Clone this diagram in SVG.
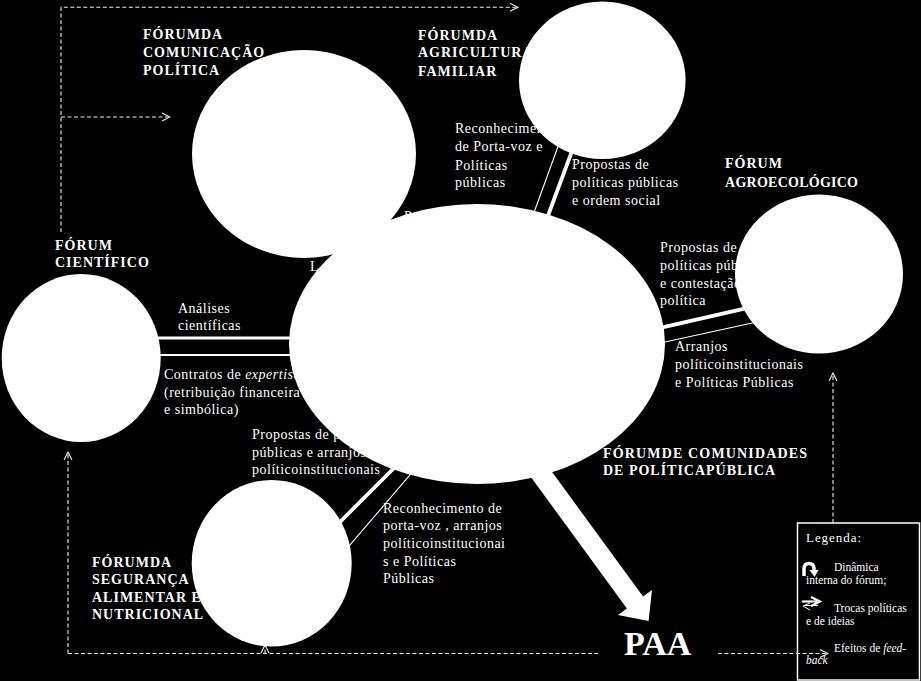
<svg xmlns="http://www.w3.org/2000/svg" width="921" height="681" viewBox="0 0 921 681" font-family="'Liberation Serif', 'DejaVu Serif', serif">
<style>
text{fill:#fff;font-family:'Liberation Serif','DejaVu Serif',serif}
.t{font-size:14px;font-weight:bold;letter-spacing:1px}
.l{font-size:14px;letter-spacing:0.5px}
.lg{font-size:11.5px}
.node{fill:#fff}
.thick{stroke:#fff;stroke-width:3.8;fill:none}
.thin{stroke:#fff;stroke-width:1.1;fill:none}
.dash{stroke:#eee;stroke-width:1.1;fill:none;stroke-dasharray:4 2.5}
</style>
<defs>
<marker id="oa" markerWidth="10" markerHeight="10" refX="9" refY="5" orient="auto" markerUnits="userSpaceOnUse">
<path d="M1,1 L9,5 L1,9" fill="none" stroke="#eee" stroke-width="1.1"/>
</marker>
</defs>
<rect width="921" height="681" fill="#000"/>

<g id="legend">
<rect x="797.5" y="523" width="122" height="157" fill="#000" stroke="#fff" stroke-width="1.5"/>
<text class="lg" x="806" y="542" style="font-size:13px" textLength="55" lengthAdjust="spacing">Legenda:</text>
<path d="M804,576 V569 Q804,563.5 809,563.5 Q814,563.5 814,569 V571" fill="none" stroke="#fff" stroke-width="3.5"/>
<polygon points="809.5,570 818.5,570 814.5,577" fill="#fff"/>
<text class="lg" x="834" y="571">Dinâmica</text>
<text class="lg" x="806" y="583.5">interna do fórum;</text>
<path d="M802,601.5 H817" stroke="#fff" stroke-width="2.2" fill="none"/>
<path d="M811,597 L820,601.5 L811,606" stroke="#fff" stroke-width="2.2" fill="none"/>
<path d="M818,605.5 H804" stroke="#fff" stroke-width="1" fill="none"/>
<path d="M810,603 L803,606 L810,610" stroke="#fff" stroke-width="1" fill="none"/>
<text class="lg" x="834" y="612">Trocas políticas</text>
<text class="lg" x="806" y="625">e de ideias</text>
<text class="lg" x="834" y="652">Efeitos de <tspan font-style="italic">feed-</tspan></text>
<text class="lg" x="806" y="664" font-style="italic">back</text>
</g>

<g id="connectors">
<path class="dash" d="M61,232 V7.3 H518" marker-end="url(#oa)"/>
<path class="dash" d="M61,117 H170" marker-end="url(#oa)"/>
<path class="dash" d="M68,653.5 V452" marker-end="url(#oa)"/>
<path class="dash" d="M68,653.5 H598"/>
<path class="dash" d="M265,653.5 V645" marker-end="url(#oa)"/>
<path class="dash" d="M718,653.5 H828" marker-end="url(#oa)"/>
<path class="dash" d="M833,523 V373" marker-end="url(#oa)"/>
<line class="thick" x1="155" y1="338" x2="295" y2="338" style="stroke-width:3"/>
<line class="thin" x1="155" y1="355" x2="295" y2="355" style="stroke-width:1.8"/>
<line class="thick" x1="575" y1="143" x2="546" y2="221"/>
<line class="thin" x1="560" y1="141" x2="532" y2="218"/>
<line class="thick" x1="658" y1="328.4" x2="750" y2="307.4"/>
<line class="thin" x1="658" y1="343.5" x2="758" y2="321.7"/>
<line class="thick" x1="396" y1="466" x2="338" y2="524"/>
<line class="thin" x1="413" y1="471.3" x2="346" y2="549.7"/>
<polygon points="525.1,435.1 643.1,596.6 652,590.1 648.6,621.1 618,614.9 626.9,608.4 508.9,446.9" fill="#fff"/>
</g>

<g id="labels">
<text class="l" x="455" y="133">Reconhecimento</text>
<text class="l" x="455" y="151">de Porta-voz e</text>
<text class="l" x="455" y="170">Políticas</text>
<text class="l" x="455" y="187">públicas</text>
<text class="l" x="572" y="169">Propostas de</text>
<text class="l" x="572" y="187">políticas públicas</text>
<text class="l" x="572" y="205">e ordem social</text>
<text class="l" x="660" y="252">Propostas de</text>
<text class="l" x="660" y="270">políticas públicas</text>
<text class="l" x="660" y="288">e contestação</text>
<text class="l" x="660" y="305">política</text>
<text class="l" x="675" y="351">Arranjos</text>
<text class="l" x="675" y="369">políticoinstitucionais</text>
<text class="l" x="675" y="387">e Políticas Públicas</text>
<text class="l" x="178" y="313">Análises</text>
<text class="l" x="178" y="330">científicas</text>
<text class="l" x="164" y="379">Contratos de <tspan font-style="italic">expertise</tspan></text>
<text class="l" x="164" y="397">(retribuição financeira</text>
<text class="l" x="164" y="414">e simbólica)</text>
<text class="l" x="252" y="439">Propostas de políticas</text>
<text class="l" x="252" y="457">públicas e arranjos</text>
<text class="l" x="252" y="474">políticoinstitucionais</text>
<text class="l" x="383" y="513">Reconhecimento de</text>
<text class="l" x="383" y="530">porta-voz , arranjos</text>
<text class="l" x="383" y="548">políticoinstitucionai</text>
<text class="l" x="383" y="566">s e Políticas</text>
<text class="l" x="383" y="583">Públicas</text>
<text class="l" x="310" y="271">L</text>
<text class="l" x="404" y="220.5">P</text>
</g>

<g id="node-comunicacao">
<text class="t" x="143" y="39">FÓRUMDA</text>
<text class="t" x="143" y="57">COMUNICAÇÃO</text>
<text class="t" x="143" y="75">POLÍTICA</text>
<ellipse class="node" cx="304" cy="154" rx="112" ry="104"/>
</g>
<g id="node-agricultura">
<text class="t" x="418" y="40">FÓRUMDA</text>
<text class="t" x="418" y="57">AGRICULTURA</text>
<text class="t" x="418" y="76">FAMILIAR</text>
<ellipse class="node" cx="602.3" cy="80.3" rx="83.3" ry="78.7"/>
</g>
<g id="node-agroecologico">
<text class="t" x="725" y="168">FÓRUM</text>
<text class="t" x="725" y="187" style="letter-spacing:0" textLength="133" lengthAdjust="spacing">AGROECOLÓGICO</text>
<ellipse class="node" cx="819" cy="274" rx="84" ry="79.5"/>
</g>
<g id="node-cientifico">
<text class="t" x="55" y="250">FÓRUM</text>
<text class="t" x="55" y="267">CIENTÍFICO</text>
<ellipse class="node" cx="81.2" cy="358" rx="79.5" ry="84"/>
</g>
<g id="node-seguranca">
<text class="t" x="92" y="567">FÓRUMDA</text>
<text class="t" x="92" y="584">SEGURANÇA</text>
<text class="t" x="92" y="602">ALIMENTAR E</text>
<text class="t" x="92" y="619">NUTRICIONAL</text>
<ellipse class="node" cx="271.7" cy="563.3" rx="80" ry="83.3"/>
</g>
<g id="node-comunidades">
<ellipse class="node" cx="477" cy="344" rx="188" ry="140"/>
<text class="t" x="603" y="458" style="letter-spacing:0" textLength="204" lengthAdjust="spacing">FÓRUMDE COMUNIDADES</text>
<text class="t" x="603" y="475" style="letter-spacing:0" textLength="172" lengthAdjust="spacing">DE POLÍTICAPÚBLICA</text>
</g>
<g id="node-paa">
<text x="624" y="655" style="font-size:34px;font-weight:bold">PAA</text>
</g>
</svg>
